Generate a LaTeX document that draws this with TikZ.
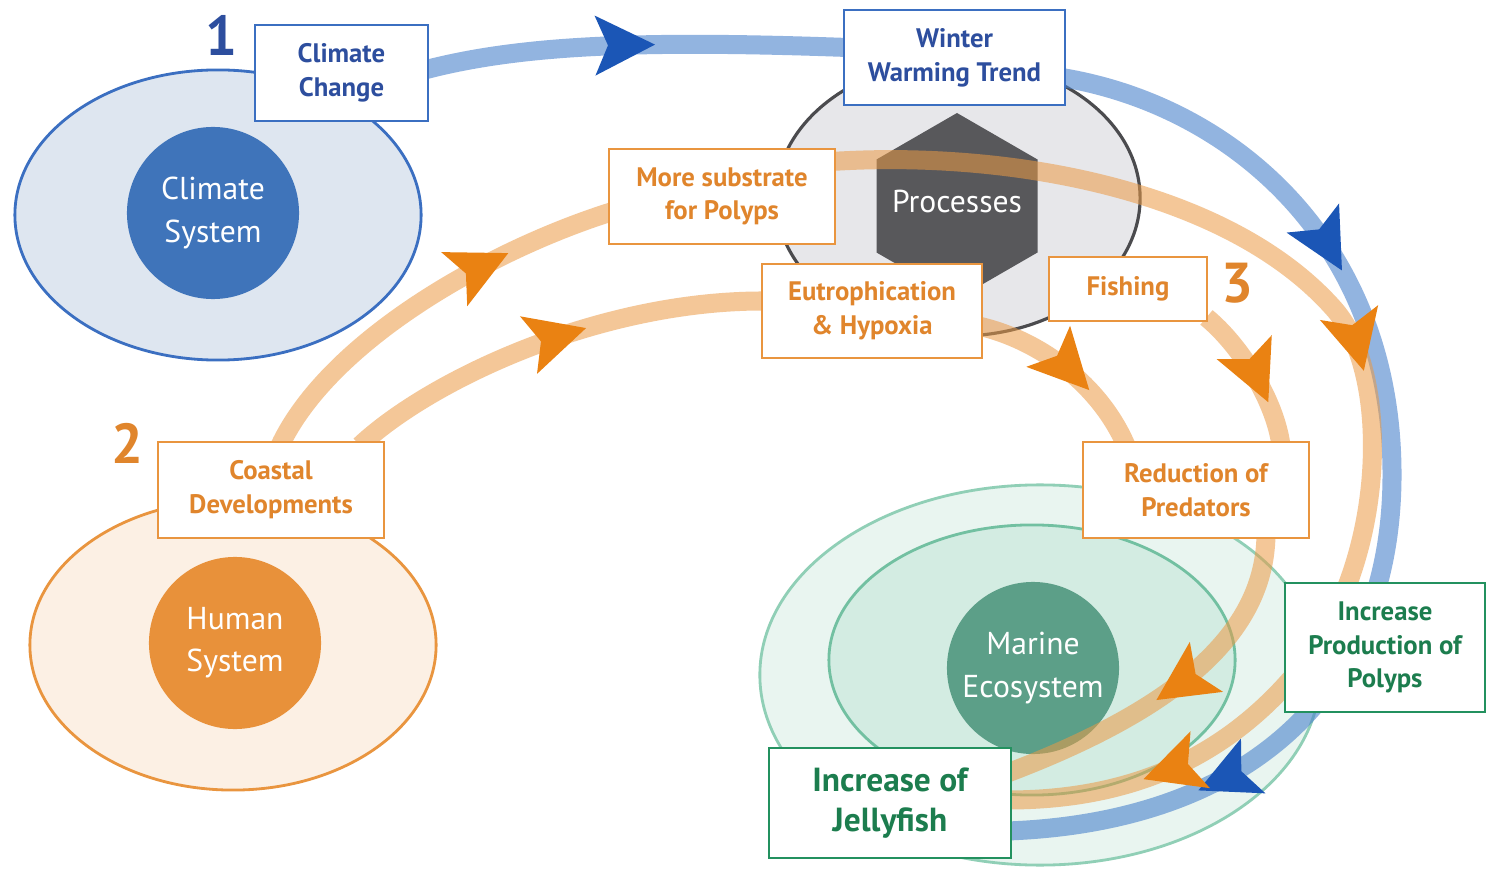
\documentclass[tikz,border=0pt]{standalone}
\usepackage{fontspec}
\setmainfont{PT Sans}
\usetikzlibrary{calc,decorations.markings}

% palette
\definecolor{cblue}{HTML}{3F74BA}
\definecolor{cbluefill}{HTML}{DEE6F0}
\definecolor{cblueline}{HTML}{3B6FC1}
\definecolor{cbluetext}{HTML}{2D4E9E}
\definecolor{cbluetip}{HTML}{1B56B6}
\definecolor{cband}{HTML}{4A82CC}
\definecolor{corange}{HTML}{E8913A}
\definecolor{corangefill}{HTML}{FCF0E4}
\definecolor{corangeline}{HTML}{E9953F}
\definecolor{corangetext}{HTML}{E0852C}
\definecolor{corangetip}{HTML}{EA8212}
\definecolor{oband}{HTML}{EB9A45}
\definecolor{cgreen}{HTML}{5C9F88}
\definecolor{cgreenfillA}{HTML}{E9F5F0}
\definecolor{cgreenfillB}{HTML}{D3ECE2}
\definecolor{cgreenlineA}{HTML}{90CFB6}
\definecolor{cgreenlineB}{HTML}{72C0A1}
\definecolor{cgreentext}{HTML}{1C7D4E}
\definecolor{cgreenbox}{HTML}{23915F}
\definecolor{cgreyfill}{HTML}{E7E7EA}
\definecolor{cgreyline}{HTML}{4B4B4E}
\definecolor{chex}{HTML}{58585B}

% fonts
\newcommand\boxfont{\fontsize{7.6pt}{9.6pt}\selectfont\bfseries}
\newcommand\bigboxfont{\fontsize{9.5pt}{11.4pt}\selectfont\bfseries}
\newcommand\sysfont{\fontsize{9pt}{12pt}\selectfont}
\newcommand\numfont{\fontsize{16pt}{18pt}\selectfont\bfseries}

% stealth-like heads placed along the bands
\newcommand\bluehead{\fill[cbluetip] (0,0) -- (-0.6cm,0.3cm) -- (-0.47cm,0) -- (-0.6cm,-0.3cm) -- cycle;}
\newcommand\orangehead{\fill[corangetip] (0,0) -- (-0.6cm,0.3cm) -- (-0.47cm,0) -- (-0.6cm,-0.3cm) -- cycle;}

\pgfdeclarelayer{fields}
\pgfdeclarelayer{boxes}
\pgfsetlayers{fields,main,boxes}

\tikzset{
  box/.style={draw, fill=white, line width=0.8pt, inner sep=0pt, align=center, font=\boxfont},
  bluebox/.style={box, draw=cblueline, text=cbluetext},
  orangebox/.style={box, draw=corangeline, text=corangetext},
  greenbox/.style={box, draw=cgreenbox, text=cgreentext},
  sysnode/.style={circle, inner sep=0pt, minimum size=1.72cm, text=white, align=center, font=\sysfont},
  band/.style={line width=0.19cm, postaction={decorate}},
  blueband/.style={band, draw=cband, draw opacity=0.6},
  orangeband/.style={band, draw=oband, draw opacity=0.55},
  numlabel/.style={font=\numfont, inner sep=0pt},
}

\begin{document}
\begin{tikzpicture}[x=0.01cm, y=-0.01cm]
\useasboundingbox (0,0) rectangle (1487,870);

\begin{pgfonlayer}{fields}
\fill[white] (0,0) rectangle (1487,870);
% system fields
\filldraw[fill=cbluefill, draw=cblueline, line width=0.8pt] (218,215) ellipse [x radius=2.03cm, y radius=1.45cm];
\filldraw[fill=corangefill, draw=corangeline, line width=0.8pt] (233,645) ellipse [x radius=2.03cm, y radius=1.45cm];
\filldraw[fill=cgreenfillA, draw=cgreenlineA, line width=0.8pt] (1040,675) ellipse [x radius=2.8cm, y radius=1.9cm];
\filldraw[fill=cgreenfillB, draw=cgreenlineB, line width=0.8pt] (1032,660) ellipse [x radius=2.03cm, y radius=1.35cm];
\filldraw[fill=cgreyfill, draw=cgreyline, line width=0.9pt] (958,198) ellipse [x radius=1.82cm, y radius=1.38cm];
% processes hexagon
\fill[chex] (957,113) -- (1037.5,159.5) -- (1037.5,252.5) -- (957,299) -- (876.5,252.5) -- (876.5,159.5) -- cycle;
\node[text=white, font=\sysfont] (proc) at (957,201) {Processes};
% system cores
\node[sysnode, fill=cblue] (csys) at (213,213) {Climate\\System};
\node[sysnode, fill=corange] (hsys) at (235,643) {Human\\System};
\node[sysnode, fill=cgreen] (msys) at (1033,668) {Marine\\Ecosystem};
\end{pgfonlayer}

\begin{pgfonlayer}{boxes}
% driver and effect boxes
\node[bluebox, minimum width=1.73cm, minimum height=0.96cm] (cc) at (341.5,73) {Climate\\Change};
\node[bluebox, minimum width=2.21cm, minimum height=0.95cm] (wwt) at (954.5,57.5) {Winter\\Warming Trend};
\node[orangebox, minimum width=2.26cm, minimum height=0.95cm] (ms) at (722,196.5) {More substrate\\for Polyps};
\node[orangebox, minimum width=2.20cm, minimum height=0.94cm] (eh) at (872,311) {Eutrophication\\\& Hypoxia};
\node[orangebox, minimum width=1.58cm, minimum height=0.64cm] (fi) at (1128,289) {Fishing};
\node[orangebox, minimum width=2.26cm, minimum height=0.96cm] (cd) at (271,490) {Coastal\\Developments};
\node[orangebox, minimum width=2.26cm, minimum height=0.96cm] (rp) at (1196,490) {Reduction of\\Predators};
\node[greenbox, minimum width=2.0cm, minimum height=1.29cm] (ipp) at (1385,647.5) {Increase\\Production of\\Polyps};
\node[greenbox, font=\bigboxfont, minimum width=2.42cm, minimum height=1.10cm] (jf) at (890,803) {Increase of\\Jellyfish};
% system numbers
\node[numlabel, text=cbluetext] (n1) at (221,35) {1};
\node[numlabel, text=corangetext] (n2) at (127,443) {2};
\node[numlabel, text=corangetext] (n3) at (1237,283) {3};
\end{pgfonlayer}

% climate pathway
\draw[blueband, decoration={markings, mark=at position 0.547 with {\bluehead}}]
  ($(cc.east)+(-5,-3)$) .. controls (520,45) and (640,40) .. ($(wwt.west)+(5,-10)$);
\draw[blueband, decoration={markings, mark=at position 0.305 with {\bluehead}, mark=at position 0.83 with {\bluehead}}]
  ($(wwt.east)+(-5,20)$) .. controls (1230,105) and (1390,240) .. (1392,470)
  .. controls (1394,690) and (1250,822) .. ($(jf.east)+(-5,28)$);

% human pathways
\draw[orangeband, decoration={markings, mark=at position 0.73 with {\orangehead}}]
  ($(cd.north)+(9,5)$) .. controls (330,340) and (490,250) .. ($(ms.west)+(5,15)$);
\draw[orangeband, decoration={markings, mark=at position 0.585 with {\orangehead}}]
  ($(cd.north)+(89,5)$) .. controls (430,380) and (600,300) .. ($(eh.west)+(5,-10)$);
\draw[orangeband, decoration={markings, mark=at position 0.485 with {\orangehead}, mark=at position 0.89 with {\orangehead}}]
  ($(ms.east)+(-5,-35)$) .. controls (1010,150) and (1230,190) .. (1335,310)
  .. controls (1395,380) and (1385,580) .. (1290,680)
  .. controls (1215,765) and (1120,800) .. ($(jf.east)+(-5,-3)$);
\draw[orangeband, decoration={markings, mark=at position 0.66 with {\orangehead}}]
  ($(eh.east)+(-5,15)$) .. controls (1040,340) and (1100,385) .. ($(rp.north)+(-70,5)$);
\draw[orangeband, decoration={markings, mark=at position 0.7 with {\orangehead}}]
  ($(fi.south east)+(-2,-5)$) .. controls (1240,345) and (1275,400) .. ($(rp.north)+(85,5)$);
\draw[orangeband, decoration={markings, mark=at position 0.555 with {\orangehead}}]
  ($(rp.south)+(70,-5)$) .. controls (1265,620) and (1200,700) .. ($(jf.east)+(-5,-30)$);

\end{tikzpicture}
\end{document}
